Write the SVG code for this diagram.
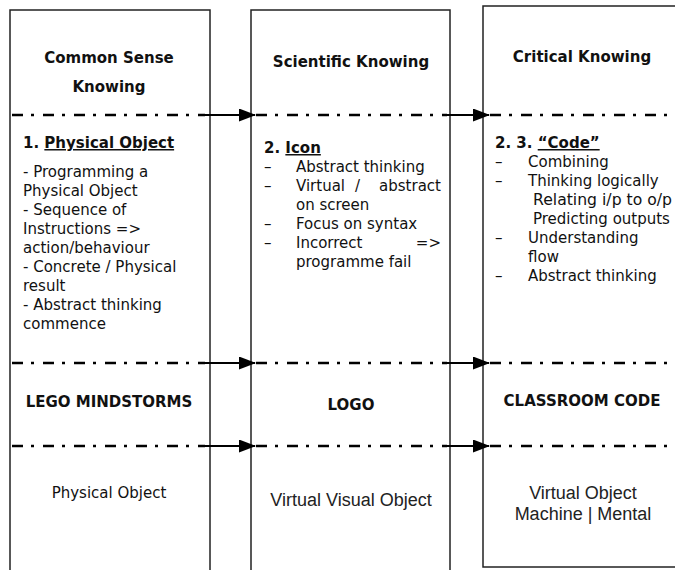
<svg xmlns="http://www.w3.org/2000/svg" width="675" height="570" viewBox="0 0 675 570">
<style>
.box{fill:none;stroke:#222;stroke-width:1.5}
.h{font-family:"DejaVu Sans","Liberation Sans",sans-serif;font-weight:bold;font-size:15px;fill:#111}
.b{font-family:"DejaVu Sans","Liberation Sans",sans-serif;font-size:15px;fill:#111}
.a{font-family:"Liberation Sans",Arial,sans-serif;font-size:18px;fill:#222}
.dd{fill:none;stroke:#000;stroke-width:2.6;stroke-dasharray:11 8 3 9}
.con{fill:none;stroke:#000;stroke-width:2;marker-end:url(#ah)}
.u{text-decoration:underline}
</style>
<defs>
<marker id="ah" markerWidth="17" markerHeight="13" refX="16" refY="6.5" orient="auto" markerUnits="userSpaceOnUse">
<path d="M0,0 L17,6.5 L0,13 Z" fill="#000"/>
</marker>
</defs>
<rect width="675" height="570" fill="#fff"/>

<g id="col-common-sense">
<rect class="box" x="10" y="10" width="200" height="575"/>
<text class="h" x="109" y="63" text-anchor="middle">Common Sense</text>
<text class="h" x="109" y="92" text-anchor="middle">Knowing</text>
<text class="h" x="23" y="148">1. <tspan class="u">Physical Object</tspan></text>
<text class="b" x="23" y="177">- Programming a</text>
<text class="b" x="23" y="196">Physical Object</text>
<text class="b" x="23" y="215">- Sequence of</text>
<text class="b" x="23" y="234">Instructions =&gt;</text>
<text class="b" x="23" y="253">action/behaviour</text>
<text class="b" x="23" y="272">- Concrete / Physical</text>
<text class="b" x="23" y="291">result</text>
<text class="b" x="23" y="310">- Abstract thinking</text>
<text class="b" x="23" y="329">commence</text>
<text class="h" x="109" y="407" text-anchor="middle">LEGO MINDSTORMS</text>
<text class="b" x="109" y="498" text-anchor="middle">Physical Object</text>
</g>

<g id="col-scientific">
<rect class="box" x="251" y="10" width="199" height="575"/>
<text class="h" x="351" y="67" text-anchor="middle">Scientific Knowing</text>
<text class="h" x="264" y="153">2. <tspan class="u">Icon</tspan></text>
<text class="b" x="264" y="172">–</text>
<text class="b" x="296" y="172">Abstract thinking</text>
<text class="b" x="264" y="191">–</text>
<text class="b" x="296" y="191">Virtual</text>
<text class="b" x="355" y="191">/</text>
<text class="b" x="441" y="191" text-anchor="end">abstract</text>
<text class="b" x="296" y="210">on screen</text>
<text class="b" x="264" y="229">–</text>
<text class="b" x="296" y="229">Focus on syntax</text>
<text class="b" x="264" y="248">–</text>
<text class="b" x="296" y="248">Incorrect</text>
<text class="b" x="441" y="248" text-anchor="end">=&gt;</text>
<text class="b" x="296" y="267">programme fail</text>
<text class="h" x="351" y="410" text-anchor="middle">LOGO</text>
<text class="a" x="351" y="506" text-anchor="middle">Virtual Visual Object</text>
</g>

<g id="col-critical">
<rect class="box" x="483" y="6" width="215" height="561"/>
<text class="h" x="582" y="62" text-anchor="middle">Critical Knowing</text>
<text class="h" x="495" y="148">2. 3. <tspan class="u">“Code”</tspan></text>
<text class="b" x="495" y="167">–</text>
<text class="b" x="528" y="167">Combining</text>
<text class="b" x="495" y="186">–</text>
<text class="b" x="528" y="186">Thinking logically</text>
<text class="b" x="533" y="205" textLength="139" lengthAdjust="spacingAndGlyphs">Relating i/p to o/p</text>
<text class="b" x="533" y="224">Predicting outputs</text>
<text class="b" x="495" y="243">–</text>
<text class="b" x="528" y="243">Understanding</text>
<text class="b" x="528" y="262">flow</text>
<text class="b" x="495" y="281">–</text>
<text class="b" x="528" y="281">Abstract thinking</text>
<text class="h" x="582" y="406" text-anchor="middle">CLASSROOM CODE</text>
<text class="a" x="583" y="499" text-anchor="middle">Virtual Object</text>
<text class="a" x="583" y="520" text-anchor="middle">Machine | Mental</text>
</g>

<g id="connectors">
<path class="dd" d="M12,115 H205 M256,115 H447 M490,115 H675"/>
<path class="dd" d="M12,363 H205 M256,363 H447 M490,363 H675"/>
<path class="dd" d="M12,446 H205 M256,446 H447 M490,446 H675"/>
<path class="con" d="M203,115 H255"/>
<path class="con" d="M447,115 H489"/>
<path class="con" d="M203,363 H255"/>
<path class="con" d="M447,363 H489"/>
<path class="con" d="M203,446 H255"/>
<path class="con" d="M447,446 H489"/>
</g>
</svg>
